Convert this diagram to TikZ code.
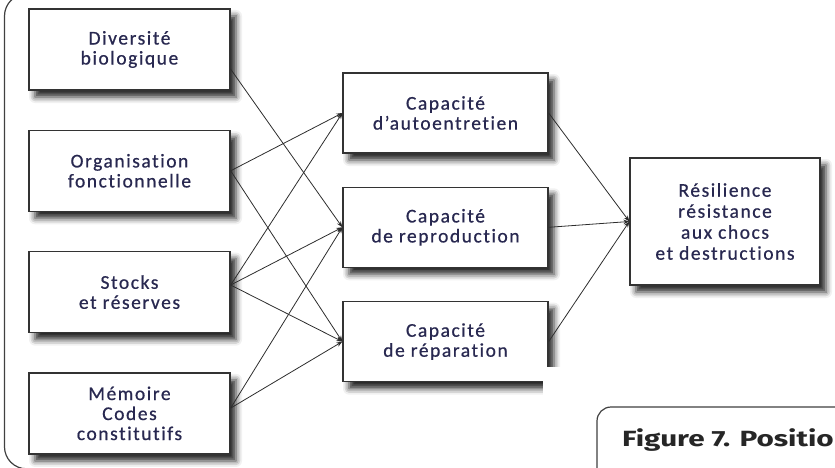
\documentclass[tikz,border=0pt]{standalone}
\usepackage{fontspec}
\usepackage{tikz}
\usetikzlibrary{positioning}
\usetikzlibrary{arrows.meta}
\usetikzlibrary{shadows.blur}

\newfontfamily\boxfont[LetterSpace=8, Ligatures=NoCommon, FakeBold=0.6]{Carlito}
\newfontfamily\capfont[FakeStretch=1.35]{Fira Sans}
\definecolor{inkblue}{RGB}{40,40,80}
\definecolor{edgegray}{RGB}{45,45,45}

\begin{document}
\begin{tikzpicture}
          [x=1pt, y=-1pt, node distance={39pt}, >={Stealth[length=6pt, width=4.5pt]},
           box/.style = {draw=black!80, line width=1.3pt, fill=white, align=center,
             minimum width=201pt, minimum height=81pt, text=inkblue,
             font=\boxfont\fontsize{19.5pt}{20pt}\selectfont,
             blur shadow={shadow xshift=6pt, shadow yshift=-7pt, shadow blur radius=6pt, shadow opacity=85}},
           link/.style = {->, draw=edgegray, line width=0.8pt}]
          \useasboundingbox (0,0) rectangle (835,468);
          \clip (0,0) rectangle (835,468);
          \draw[black!75, line width=1.2pt, rounded corners=22pt] (4.5,-6) rectangle (1000,468.8);

          % causes
          \node[box] (div) at (129.5,49.5) {Diversité\\biologique};
          \node[box] (org) [below=of div] {Organisation\\fonctionnelle};
          \node[box] (stk) [below=of org] {Stocks\\et réserves};
          \node[box] (mem) [below=of stk] {Mémoire\\Codes\\constitutifs};

          % capacities
          \node[box, minimum width=205pt, minimum height=80pt] (auto) at (445.5,113) {Capacité\\d’autoentretien};
          \node[box, minimum width=205pt, minimum height=80pt] (repr) [below=33pt of auto] {Capacité\\de reproduction};
          \node[box, minimum width=205pt, minimum height=80pt] (repa) [below=33pt of repr] {Capacité\\de réparation};

          % result
          \node[box, minimum width=190pt, minimum height=127pt,
                font=\boxfont\fontsize{19.5pt}{21pt}\selectfont] (res) at (725,221.5)
                {Résilience\\résistance\\aux chocs\\et destructions};

          \draw[link] (div.-11) to (repr.west);
          \draw[link] (org.east) to (auto.west);
          \draw[link] (org.east) to (repa.west);
          \draw[link] (stk.4) to (auto.west);
          \draw[link] (stk.4) to (repr.west);
          \draw[link] (stk.4) to (repa.west);
          \draw[link] (mem.3) to (repr.west);
          \draw[link] (mem.3) to (repa.west);
          \draw[link] (auto.east) to (res.west);
          \draw[link] (repr.east) to (res.west);
          \draw[link] (repa.east) to (res.west);

          % caption, cut by the page edge
          \fill[white] (543,367) rectangle (835,468);
          \draw[black!75, line width=1.2pt, rounded corners=14pt] (597,407) rectangle (1000,560);
          \node[anchor=base west, inner sep=0pt, text=black!85,
                font=\capfont\bfseries\fontsize{22pt}{24pt}\selectfont] (cap) at (622,446) {Figure 7. Position};
\end{tikzpicture}
\end{document}
